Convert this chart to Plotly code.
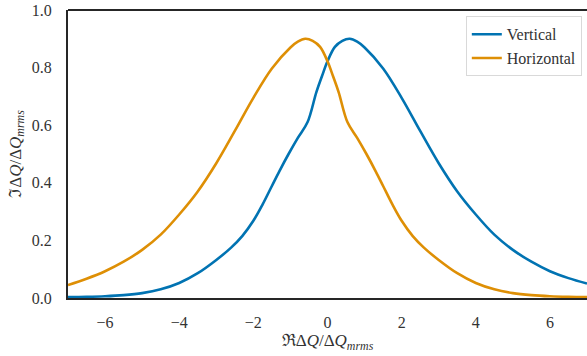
import plotly.graph_objects as go

# Horizontal stability curve
horiz_x = [-7.0, -6.5, -6.0, -5.5, -5.0, -4.5, -4.0, -3.5, -3.0, -2.5, -2.0, -1.5,
           -1.0, -0.8, -0.6, -0.4, -0.2, 0.0, 0.15, 0.3, 0.54, 0.8, 1.05, 1.3, 1.5,
           1.75, 2.0, 2.3, 2.6, 3.0, 3.5, 4.0, 4.5, 5.0, 5.5, 6.0, 6.5, 7.0]
horiz_y = [0.045, 0.067, 0.093, 0.126, 0.167, 0.22, 0.29, 0.37, 0.468, 0.58, 0.695, 0.797,
           0.87, 0.89, 0.90, 0.893, 0.872, 0.822, 0.77, 0.715, 0.61, 0.556, 0.50, 0.44, 0.389,
           0.325, 0.268, 0.215, 0.175, 0.132, 0.086, 0.052, 0.03, 0.017, 0.01, 0.006, 0.004, 0.003]

# Vertical stability curve
vert_x = [-7.0, -6.5, -6.0, -5.5, -5.0, -4.5, -4.0, -3.5, -3.0, -2.6, -2.3, -2.0,
          -1.75, -1.5, -1.3, -1.05, -0.8, -0.54, -0.3, -0.15, 0.0, 0.2, 0.4, 0.6, 0.8,
          1.0, 1.5, 2.0, 2.5, 3.0, 3.5, 4.0, 4.5, 5.0, 5.5, 6.0, 6.5, 7.0]
vert_y = [0.003, 0.004, 0.006, 0.01, 0.017, 0.03, 0.052, 0.086, 0.132, 0.175, 0.215, 0.268,
          0.325, 0.389, 0.44, 0.50, 0.556, 0.61, 0.715, 0.77, 0.822, 0.872, 0.893, 0.90, 0.89,
          0.87, 0.797, 0.695, 0.58, 0.468, 0.37, 0.29, 0.22, 0.167, 0.126, 0.093, 0.069, 0.05]

x_ticks = [-6, -4, -2, 0, 2, 4, 6]
y_ticks = [0.0, 0.2, 0.4, 0.6, 0.8, 1.0]

FONT = "Liberation Serif, DejaVu Serif, serif"

fig = go.Figure()
fig.add_trace(go.Scatter(x=vert_x, y=vert_y, mode="lines", name="Vertical",
                         line=dict(color="#0173B2", width=2.6, shape="spline", smoothing=1.0)))
fig.add_trace(go.Scatter(x=horiz_x, y=horiz_y, mode="lines", name="Horizontal",
                         line=dict(color="#DE8F05", width=2.6, shape="spline", smoothing=1.0)))

fig.update_layout(
    width=587, height=356,
    margin=dict(l=68, r=0, t=10, b=58),
    paper_bgcolor="white", plot_bgcolor="white",
    font=dict(family=FONT, size=16, color="#333333"),
    showlegend=True,
    legend=dict(x=0.99, y=0.978, xanchor="right", yanchor="top",
                bgcolor="rgba(255,255,255,0.8)", bordercolor="#d9d9d9", borderwidth=1,
                font=dict(size=16, color="#333333"), tracegroupgap=0),
    xaxis=dict(range=[-7, 7], tickvals=x_ticks,
               ticktext=["\u2212" + str(-v) if v < 0 else str(v) for v in x_ticks],
               showgrid=False, zeroline=False, showline=True, linecolor="#262626",
               linewidth=2, ticks="", ticklen=0, ticklabelstandoff=9,
               tickfont=dict(size=16),
               title=dict(text="\u211cΔ<i>Q</i>/Δ<i>Q</i><sub><i>mrms</i></sub>",
                          standoff=0, font=dict(size=17))),
    yaxis=dict(range=[0, 1], tickvals=y_ticks,
               ticktext=[f"{v:.1f}" for v in y_ticks],
               showgrid=False, zeroline=False, showline=True, linecolor="#262626",
               linewidth=2, ticks="", ticklen=0, ticklabelstandoff=11,
               tickfont=dict(size=16),
               title=dict(text="\u2111Δ<i>Q</i>/Δ<i>Q</i><sub><i>mrms</i></sub>",
                          standoff=6, font=dict(size=17))),
)
# top spine
fig.add_shape(type="line", xref="paper", yref="paper", x0=0, x1=1, y0=1, y1=1,
              line=dict(color="#262626", width=2))

fig.write_html("out.html")
